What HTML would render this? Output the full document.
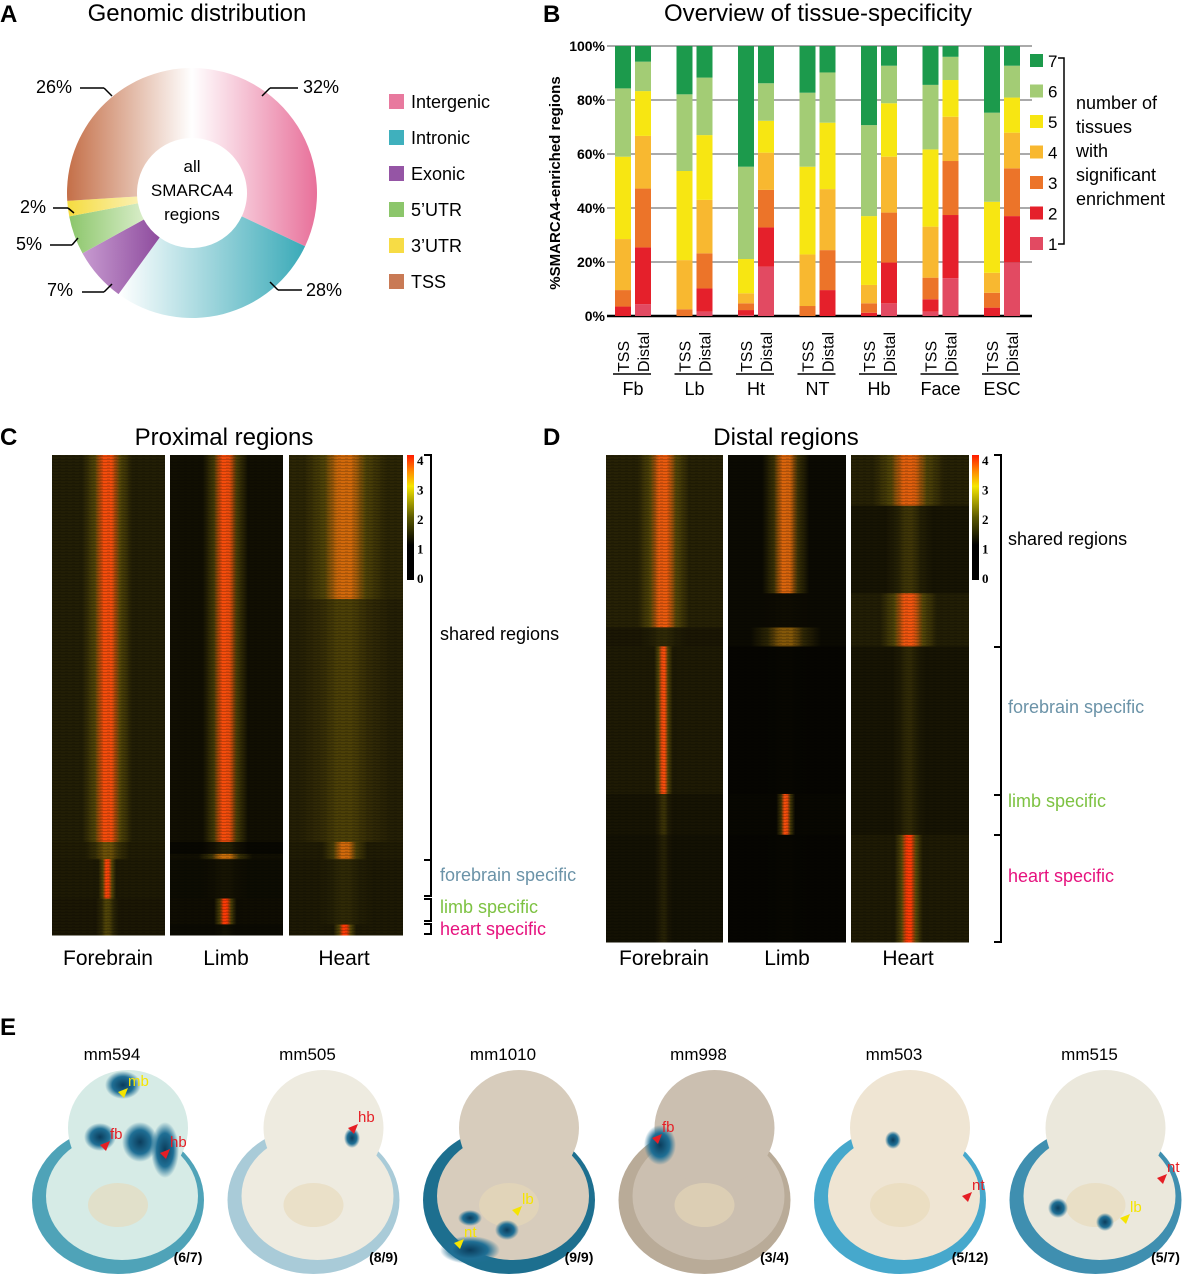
<!DOCTYPE html>
<html><head><meta charset="utf-8"><style>
body{margin:0;background:#fff;}
svg{display:block;font-family:"Liberation Sans",Arial,sans-serif;}
</style></head><body>
<svg id="fig" width="1182" height="1280" viewBox="0 0 1182 1280" xmlns="http://www.w3.org/2000/svg">
<defs>
<linearGradient id="gInter" x1="0" x2="1" y1="0" y2="0"><stop offset="0" stop-color="#fff"/><stop offset="1" stop-color="#e8709a"/></linearGradient>
<linearGradient id="gIntr" x1="0" x2="1" y1="0" y2="0"><stop offset="0" stop-color="#fff"/><stop offset="1" stop-color="#3aaab8"/></linearGradient>
<linearGradient id="gExo" x1="0" x2="1"><stop offset="0" stop-color="#c79ad0"/><stop offset="1" stop-color="#8e4c9e"/></linearGradient>
<linearGradient id="g5" x1="0" x2="1"><stop offset="0" stop-color="#8cc66b"/><stop offset="1" stop-color="#d8edc8"/></linearGradient>
<linearGradient id="g3" x1="0" x2="1"><stop offset="0" stop-color="#f5dc40"/><stop offset="1" stop-color="#fbf0b0"/></linearGradient>
<linearGradient id="gTSS" x1="0" x2="1" y1="0" y2="0"><stop offset="0" stop-color="#c46f48"/><stop offset="1" stop-color="#fff"/></linearGradient>
<linearGradient id="gCbar" x1="0" x2="0" y1="0" y2="1"><stop offset="0" stop-color="#ff1a00"/><stop offset="0.13" stop-color="#ff8a00"/><stop offset="0.25" stop-color="#f5e600"/><stop offset="0.5" stop-color="#5a5800"/><stop offset="0.72" stop-color="#000"/><stop offset="1" stop-color="#000"/></linearGradient>
<pattern id="noise" width="7" height="3" patternUnits="userSpaceOnUse"><rect width="7" height="1" fill="#000" opacity="0.2"/><rect y="2" x="2" width="3" height="1" fill="#000" opacity="0.12"/></pattern>
<radialGradient id="blueBlob"><stop offset="0" stop-color="#0b3d5c"/><stop offset="0.6" stop-color="#1f6f95"/><stop offset="1" stop-color="#1f6f95" stop-opacity="0"/></radialGradient>
</defs>

<text x="0" y="22" font-size="24" font-weight="bold">A</text>
<text x="197" y="21" font-size="24" text-anchor="middle">Genomic distribution</text>
<g id="donut"></g>
<text x="192" y="172" font-size="17" text-anchor="middle">all</text>
<text x="192" y="196" font-size="17" text-anchor="middle">SMARCA4</text>
<text x="192" y="220" font-size="17" text-anchor="middle">regions</text>
<g id="donutLegend"></g>
<g font-size="18">
<text x="303" y="93">32%</text><line x1="270" y1="88" x2="298" y2="88" stroke="#000" stroke-width="1.5"/><line x1="270" y1="88" x2="262" y2="96" stroke="#000" stroke-width="1.5"/>
<text x="306" y="296">28%</text><line x1="278" y1="290" x2="302" y2="290" stroke="#000" stroke-width="1.5"/><line x1="278" y1="290" x2="270" y2="282" stroke="#000" stroke-width="1.5"/>
<text x="47" y="296">7%</text><line x1="82" y1="292" x2="104" y2="292" stroke="#000" stroke-width="1.5"/><line x1="104" y1="292" x2="112" y2="284" stroke="#000" stroke-width="1.5"/>
<text x="16" y="250">5%</text><line x1="50" y1="245" x2="72" y2="245" stroke="#000" stroke-width="1.5"/><line x1="72" y1="245" x2="78" y2="238" stroke="#000" stroke-width="1.5"/>
<text x="20" y="213">2%</text><line x1="53" y1="208" x2="68" y2="208" stroke="#000" stroke-width="1.5"/><line x1="68" y1="208" x2="74" y2="213" stroke="#000" stroke-width="1.5"/>
<text x="36" y="93">26%</text><line x1="80" y1="88" x2="104" y2="88" stroke="#000" stroke-width="1.5"/><line x1="104" y1="88" x2="112" y2="96" stroke="#000" stroke-width="1.5"/>
</g>

<text x="543" y="22" font-size="24" font-weight="bold">B</text>
<text x="818" y="21" font-size="24" text-anchor="middle">Overview of tissue-specificity</text>
<text transform="translate(560,183) rotate(-90)" font-size="15" font-weight="bold" text-anchor="middle">%SMARCA4-enriched regions</text>
<g id="bars"></g>
<g id="barLegend"></g>
<g font-size="18">
<text x="1076" y="109">number of</text><text x="1076" y="133">tissues</text><text x="1076" y="157">with</text><text x="1076" y="181">significant</text><text x="1076" y="205">enrichment</text>
</g>

<text x="0" y="445" font-size="24" font-weight="bold">C</text>
<text x="224" y="445" font-size="24" text-anchor="middle">Proximal regions</text>
<text x="543" y="445" font-size="24" font-weight="bold">D</text>
<text x="786" y="445" font-size="24" text-anchor="middle">Distal regions</text>
<g id="heatmaps"></g>
<g id="annot"></g>

<text x="0" y="1035" font-size="24" font-weight="bold">E</text>
<g id="embryos"></g>
</svg>
<script>
const NS="http://www.w3.org/2000/svg";
function mk(tag,attrs,parent){const e=document.createElementNS(NS,tag);for(const k in attrs)e.setAttribute(k,attrs[k]);if(parent)parent.appendChild(e);return e;}

const donutCategories=["Intergenic","Intronic","Exonic","5'UTR","3'UTR","TSS"];
const donutLegendLabels=["Intergenic","Intronic","Exonic","5\u2019UTR","3\u2019UTR","TSS"];
const donutValues=[32,28,7,5,2,26];
const donutFills=["url(#gInter)","url(#gIntr)","url(#gExo)","url(#g5)","url(#g3)","url(#gTSS)"];
const donutLegendColors=["#e8799e","#3fb0bd","#9555a5","#8cc66b","#f7dc45","#c97a55"];

const tissues=["Fb","Lb","Ht","NT","Hb","Face","ESC"];
const barTypes=["TSS","Distal"];
const tssSeg=[
 [0,3.5,6.1,18.9,30.5,25.3,15.7],
 [0,0,2.5,18.2,33,28.4,17.9],
 [0.4,1.8,2.5,3.7,12.7,34.2,44.7],
 [0,0,3.7,19.1,32.5,27.4,17.3],
 [0,1.2,3.5,6.8,25.5,33.7,29.3],
 [1.6,4.6,8,18.9,28.6,23.9,14.4],
 [0,3.1,5.5,7.4,26.3,33,24.7]];
const distSeg=[
 [4.4,21,21.8,19.5,16.6,10.9,5.8],
 [1.6,8.6,13,19.8,24,21.3,11.7],
 [18.3,14.5,13.9,13.8,11.8,13.9,13.8],
 [0,9.6,14.8,22.6,24.6,18.6,9.8],
 [4.7,15.1,18.5,20.7,19.8,13.9,7.3],
 [14,23.4,20,16.4,13.6,8.6,4],
 [19.9,17.1,17.7,13.2,13,11.8,7.3]];
const segColors=["#e24a62","#e5202b","#ec7429","#f8b830","#f7e612","#a3cc75","#1c9a4c"];
const yTicks=[0,20,40,60,80,100];
const legendNums=["7","6","5","4","3","2","1"];

const hmProximalFb=[[0,0.806,0.9,3.6,0.11],[0.806,0.842,0.85,2.2,0.1],[0.842,0.924,0.8,3.7,0.04],[0.924,1,0.7,1.9,0.05]];
const hmProximalLb=[[0,0.806,0.45,3.6,0.1],[0.806,0.831,0.2,1.0,0.1],[0.831,0.842,0.45,3.0,0.12],[0.842,0.924,0.35,0.6,0.1],[0.924,0.978,0.4,3.8,0.05],[0.978,1,0.3,0.5,0.05]];
const hmProximalHt=[[0,0.30,1.1,3.1,0.18],[0.30,0.806,0.95,1.8,0.2],[0.806,0.842,0.85,3.1,0.1],[0.842,0.978,0.75,1.2,0.12],[0.978,1,0.75,3.8,0.05]];
const hmDistalFb=[[0,0.354,1.0,3.4,0.11],[0.354,0.393,0.7,1.2,0.1],[0.393,0.696,0.8,3.6,0.04],[0.696,0.78,0.6,1.4,0.04],[0.78,1,0.5,1.0,0.04]];
const hmDistalLb=[[0,0.284,0.3,3.2,0.1],[0.284,0.354,0.3,0.4,0.1],[0.354,0.393,0.3,2.4,0.15],[0.393,0.696,0.15,0.2,0.1],[0.696,0.78,0.2,3.6,0.04],[0.78,1,0.15,0.2,0.1]];
const hmDistalHt=[[0,0.104,1.0,3.3,0.15],[0.104,0.284,0.6,1.5,0.1],[0.284,0.393,0.9,3.5,0.12],[0.393,0.78,0.6,1.2,0.07],[0.78,1,0.8,3.8,0.06]];
const cbarTicks=["4","3","2","1","0"];

const embryoNames=["mm594","mm505","mm1010","mm998","mm503","mm515"];
const embryoCounts=["(6/7)","(8/9)","(9/9)","(3/4)","(5/12)","(5/7)"];

(function(){
 const g=document.getElementById('donut');
 const cx=192,cy=193,R=125,r=55;
 const tot=donutValues.reduce((a,b)=>a+b,0);
 let a0=-Math.PI/2;
 donutValues.forEach((v,i)=>{
  const a1=a0+v/tot*2*Math.PI;const lg=(a1-a0)>Math.PI?1:0;
  const p=`M${cx+R*Math.cos(a0)},${cy+R*Math.sin(a0)} A${R},${R} 0 ${lg} 1 ${cx+R*Math.cos(a1)},${cy+R*Math.sin(a1)} L${cx+r*Math.cos(a1)},${cy+r*Math.sin(a1)} A${r},${r} 0 ${lg} 0 ${cx+r*Math.cos(a0)},${cy+r*Math.sin(a0)}Z`;
  const e=mk('path',{d:p,fill:donutFills[i]},g);
  
  
  a0=a1;
 });
 const lgd=document.getElementById('donutLegend');
 donutLegendLabels.forEach((t,i)=>{
  const y=94+i*36;
  const s=mk('rect',{x:389,y:y,width:15,height:15,fill:donutLegendColors[i]},lgd);
  
  
  const tx=mk('text',{x:411,y:y+14,'font-size':18},lgd);tx.textContent=t;
  
  
 });
})();

(function(){
 const g=document.getElementById('bars');
 const x0=607,x1=1032,yB=316,yT=46;
 const ys=v=>yB-(v/100)*(yB-yT);
 yTicks.forEach(t=>{
  const l=mk('line',{x1:x0,x2:x1,y1:ys(t),y2:ys(t),stroke:t===0?'#000':'#777','stroke-width':t===0?2.5:1.2},g);
  
  
  const tx=mk('text',{x:605,y:ys(t)+5,'font-size':14,'font-weight':'bold','text-anchor':'end'},g);tx.textContent=t+'%';
  
  
 });
 const groupX=i=>615+i*61.5;
 tissues.forEach((tn,i)=>{
  [tssSeg[i],distSeg[i]].forEach((segs,j)=>{
   const bx=groupX(i)+j*20;let cum=0;
   segs.forEach((v,k)=>{
    if(v<=0)return;
    const top=Math.min(100,cum+v);
    const rc=mk('rect',{x:bx,y:ys(top),width:16,height:ys(cum)-ys(top),fill:segColors[k]},g);
    
    
    cum=top;
   });
   const lt=mk('text',{transform:`translate(${bx+14},${372}) rotate(-90)`,'font-size':16},g);lt.textContent=barTypes[j];
   
   
  });
  const ul=mk('line',{x1:groupX(i)-2,x2:groupX(i)+36,y1:374,y2:374,stroke:'#000','stroke-width':1.5},g);
  
  
  const gl=mk('text',{x:groupX(i)+18,y:395,'font-size':18,'text-anchor':'middle'},g);gl.textContent=tn;
  
  
 });
 const lg=document.getElementById('barLegend');
 legendNums.forEach((n,i)=>{
  const y=54+i*30.5;
  const s=mk('rect',{x:1030,y:y,width:13,height:13,fill:segColors[6-i]},lg);
  
  
  const t=mk('text',{x:1048,y:y+13,'font-size':17},lg);t.textContent=n;
  
  
 });
 mk('path',{d:'M1058,58 H1064 V244 H1058',fill:'none',stroke:'#000','stroke-width':1.5},lg);
})();

function lvlColor(v){
 const st=[[0,[0,0,0]],[1,[38,33,5]],[2,[85,72,8]],[3,[200,110,10]],[3.5,[240,85,15]],[4,[255,40,0]]];
 v=Math.max(0,Math.min(4,v));
 for(let i=1;i<st.length;i++){if(v<=st[i][0]){const a=st[i-1],b=st[i];const f=(v-a[0])/(b[0]-a[0]);
  return 'rgb('+a[1].map((c,k)=>Math.round(c+(b[1][k]-c)*f)).join(',')+')';}}
 return 'rgb(255,40,0)';
}
let gradId=0;
function drawPanel(g,x,y,w,h,blocks,name){
 const defs=document.querySelector('defs');
 blocks.forEach(b=>{
  const id='hg'+(gradId++);
  const lg=mk('linearGradient',{id:id,x1:0,x2:1,y1:0,y2:0},defs);
  const c=0.49,hw=b[4];
  [[0,b[2]],[Math.max(0,c-hw*2),b[2]],[c-hw,(b[2]*0.6+b[3]*0.4)],[c-hw*0.3,b[3]],[c+hw*0.3,b[3]],[c+hw,(b[2]*0.6+b[3]*0.4)],[Math.min(1,c+hw*2),b[2]],[1,b[2]]]
   .forEach(s=>mk('stop',{offset:s[0],'stop-color':lvlColor(s[1])},lg));
  const r=mk('rect',{x:x,y:y+b[0]*h,width:w,height:(b[1]-b[0])*h+0.5,fill:`url(#${id})`},g);
  
  
 });
 mk('rect',{x:x,y:y,width:w,height:h,fill:'url(#noise)'},g);
}
(function(){
 const g=document.getElementById('heatmaps');
 drawPanel(g,52,455,113,480,hmProximalFb,'proximal-forebrain-heatmap');
 drawPanel(g,170,455,113,480,hmProximalLb,'proximal-limb-heatmap');
 drawPanel(g,289,455,114,480,hmProximalHt,'proximal-heart-heatmap');
 drawPanel(g,606,455,117,487,hmDistalFb,'distal-forebrain-heatmap');
 drawPanel(g,728,455,118,487,hmDistalLb,'distal-limb-heatmap');
 drawPanel(g,851,455,118,487,hmDistalHt,'distal-heart-heatmap');
 [[407,'proximal'],[972,'distal']].forEach(([cx,n])=>{
  const r=mk('rect',{x:cx,y:455,width:7,height:125,fill:'url(#gCbar)'},g);
  
  
  cbarTicks.forEach((t,i)=>{const tx=mk('text',{x:cx+10,y:465+i*29.5,'font-size':13,'font-weight':'bold','font-family':'Liberation Serif, serif'},g);tx.textContent=t;
   
   });
 });
 [[108,'Forebrain'],[226,'Limb'],[344,'Heart'],[664,'Forebrain'],[787,'Limb'],[908,'Heart']].forEach(([x,t])=>{
  const tx=mk('text',{x:x,y:965,'font-size':21,'text-anchor':'middle'},g);tx.textContent=t;
  
  
 });
 const a=document.getElementById('annot');
 const st={fill:'none',stroke:'#000','stroke-width':2};
 mk('path',Object.assign({d:'M424,455 H431 V860 H424'},st),a);
 mk('path',Object.assign({d:'M424,860 H431 V896 H424'},st),a);
 mk('path',Object.assign({d:'M424,899 H431 V921 H424'},st),a);
 mk('path',Object.assign({d:'M424,924 H431 V934 H424'},st),a);
 mk('path',Object.assign({d:'M994,455 H1001 V647 H994'},st),a);
 mk('path',Object.assign({d:'M994,647 H1001 V795 H994'},st),a);
 mk('path',Object.assign({d:'M994,795 H1001 V835 H994'},st),a);
 mk('path',Object.assign({d:'M994,835 H1001 V942 H994'},st),a);
 [[440,640,'shared regions','#000'],[440,881,'forebrain specific','#6b93a8'],[440,913,'limb specific','#7dc242'],[440,935,'heart specific','#e6127e'],
  [1008,545,'shared regions','#000'],[1008,713,'forebrain specific','#6b93a8'],[1008,807,'limb specific','#7dc242'],[1008,882,'heart specific','#e6127e']].forEach(([x,y,t,c])=>{
  const tx=mk('text',{x:x,y:y,'font-size':18,fill:c},a);tx.textContent=t;
  
  
 });
})();

(function(){
 const g=document.getElementById('embryos');
 const bodyCol=["#d6ebe6","#eeebe0","#d7ccbc","#cbbfb0","#efe5d3","#ebe8dc"];
 const rimCol=["#4fa3b8","#a9cbd8","#1d6f8f","#b9ab98","#46a8cc","#3f8fb0"];
 embryoNames.forEach((n,i)=>{
  const ox=i*195.5;
  const grp=mk('g',{},g);
  
  
  mk('ellipse',{cx:118+ox,cy:1200,rx:86,ry:74,fill:rimCol[i]},grp);
  mk('ellipse',{cx:122+ox,cy:1196,rx:76,ry:64,fill:bodyCol[i]},grp);
  mk('ellipse',{cx:128+ox,cy:1128,rx:60,ry:58,fill:bodyCol[i]},grp);
  mk('ellipse',{cx:118+ox,cy:1205,rx:30,ry:22,fill:'#e8d8b8',opacity:0.6},grp);
  const t=mk('text',{x:112+ox,y:1060,'font-size':17,'text-anchor':'middle'},g);t.textContent=n;
  
  
  const c=mk('text',{x:188+ox,y:1262,'font-size':14,'text-anchor':'middle','font-weight':'bold'},g);c.textContent=embryoCounts[i];
  
  
 });
 const spots=[[123,1085,18,14],[100,1137,16,14],[140,1142,18,20],[165,1150,14,28],[352,1138,8,10],[470,1218,12,8],[507,1230,12,10],[470,1250,30,14],[660,1145,16,20],[893,1140,8,9],[1058,1208,10,10],[1105,1222,9,9]];
 spots.forEach(s=>{const e=mk('ellipse',{cx:s[0],cy:s[1],rx:s[2],ry:s[3],fill:'url(#blueBlob)'},g);
  
  });
 const arr=[[126,1084,'mb','#f5e400'],[108,1137,'fb','#e51e25'],[168,1145,'hb','#e51e25'],[356,1120,'hb','#e51e25'],[520,1202,'lb','#f5e400'],[462,1235,'nt','#f5e400'],[660,1130,'fb','#e51e25'],[970,1188,'nt','#e51e25'],[1128,1210,'lb','#f5e400'],[1165,1170,'nt','#e51e25']];
 arr.forEach(a=>{
  mk('path',{d:`M${a[0]-8},${a[1]+8} l10,-4 l-4,10 z`,fill:a[3]},g);
  const t=mk('text',{x:a[0]+2,y:a[1]+2,'font-size':15,fill:a[3]},g);t.textContent=a[2];
  
  
 });
})();
</script>
</body></html>
